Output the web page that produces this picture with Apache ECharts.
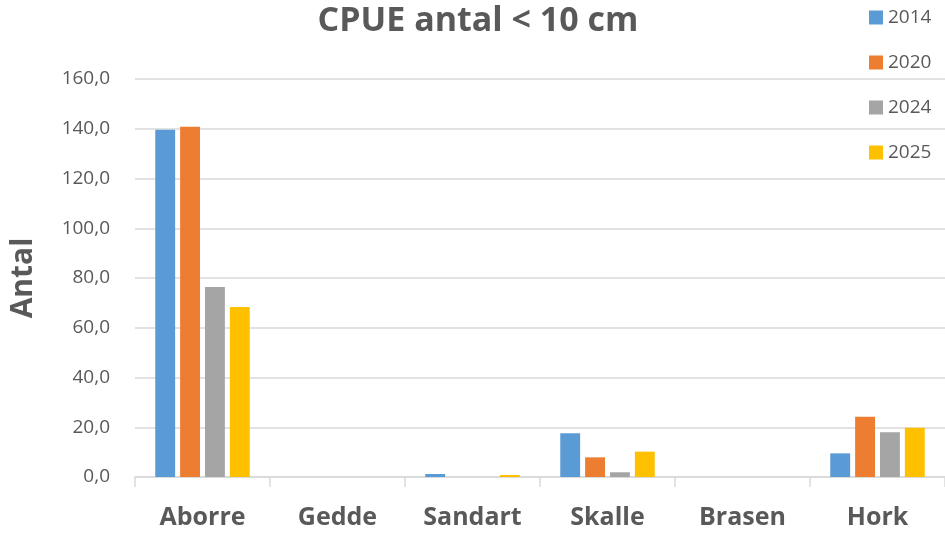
<!DOCTYPE html>
<html>
<head>
<meta charset="utf-8">
<script src="https://cdn.jsdelivr.net/npm/echarts@6/dist/echarts.min.js"></script>
<style>
  html, body { margin: 0; padding: 0; background: #fff; }
  #main { width: 945px; height: 535px; }
</style>
</head>
<body>
<div id="main"></div>
<script>
  // kategorier och värden (CPUE antal < 10 cm)
  var categories = ['Aborre', 'Gedde', 'Sandart', 'Skalle', 'Brasen', 'Hork'];
  var years = ['2014', '2020', '2024', '2025'];
  var v2014 = [139.6, 0, 1.2, 17.6, 0, 9.5];
  var v2020 = [140.8, 0, 0, 7.9, 0, 24.2];
  var v2024 = [76.4, 0, 0, 1.9, 0, 18.0];
  var v2025 = [68.3, 0, 0.8, 10.2, 0, 19.8];
  var colors = ['#5b9bd5', '#ed7d31', '#a5a5a5', '#ffc000'];

  var fontFam = '"Open Sans", Lato, sans-serif';
  var txt = '#595959';

  var allData = [v2014, v2020, v2024, v2025];
  var series = years.map(function (y, i) {
    return {
      name: y,
      type: 'bar',
      data: allData[i],
      barGap: '25%',
      barCategoryGap: '30%',
      itemStyle: { color: colors[i] }
    };
  });

  var myChart = echarts.init(document.getElementById('main'));
  myChart.setOption({
    animation: false,
    color: colors,
    title: {
      text: 'CPUE antal < 10 cm',
      left: 473,
      textAlign: 'center',
      top: -1,
      textStyle: { color: txt, fontSize: 34, fontWeight: 'bold', fontFamily: fontFam }
    },
    legend: {
      orient: 'vertical',
      left: 864,
      top: 1,
      itemWidth: 14,
      itemHeight: 14,
      itemGap: 22,
      icon: 'rect',
      textStyle: { color: txt, fontSize: 19, fontFamily: fontFam, lineHeight: 23 },
      data: years
    },
    grid: { left: 135, right: 0, top: 79, bottom: 58, containLabel: false },
    xAxis: {
      type: 'category',
      data: categories,
      axisLine: { lineStyle: { color: '#d9d9d9', width: 1.5 } },
      axisTick: { show: true, length: 10, lineStyle: { color: '#d9d9d9', width: 1.5 } },
      axisLabel: { color: txt, fontSize: 25, fontWeight: 'bold', fontFamily: fontFam, margin: 28 }
    },
    yAxis: {
      type: 'value',
      min: 0,
      max: 160,
      interval: 20,
      name: 'Antal',
      nameLocation: 'middle',
      nameGap: 97,
      nameTextStyle: { color: txt, fontSize: 30, fontWeight: 'bold', fontFamily: fontFam },
      axisLine: { show: false },
      axisTick: { show: false },
      splitLine: { lineStyle: { color: '#d9d9d9', width: 1.5 } },
      axisLabel: {
        color: txt, fontSize: 19, fontFamily: fontFam, margin: 25,
        formatter: function (v) { return v.toFixed(1).replace('.', ','); }
      }
    },
    series: series
  });
</script>
</body>
</html>
